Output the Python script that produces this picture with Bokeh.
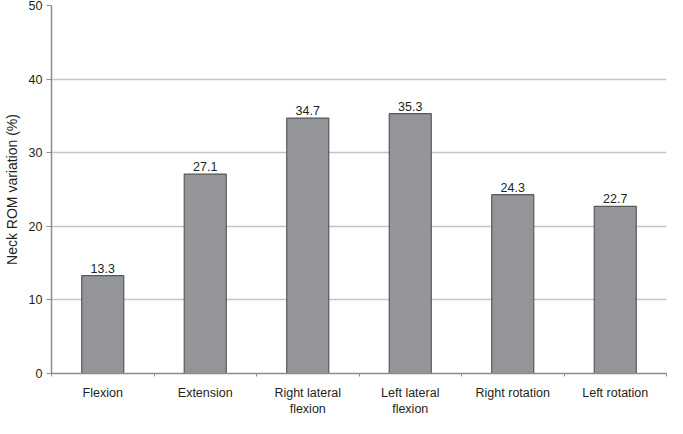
from bokeh.plotting import figure
from bokeh.models import ColumnDataSource, FixedTicker, Range1d
from bokeh.embed import file_html
from bokeh.resources import INLINE

# données
categories = ["Flexion", "Extension", "Right lateral flexion", "Left lateral flexion",
              "Right rotation", "Left rotation"]
tick_labels = ["Flexion", "Extension", "Right lateral\nflexion", "Left lateral\nflexion",
               "Right rotation", "Left rotation"]
values = [13.3, 27.1, 34.7, 35.3, 24.3, 22.7]

pos = [i + 0.5 for i in range(len(categories))]
source = ColumnDataSource(dict(x=pos, top=values, cat=categories,
                               lab=["%.1f" % v for v in values]))

FONT = "Liberation Sans"

p = figure(width=667, height=418, output_backend="svg", toolbar_location=None,
           x_range=Range1d(0, len(categories)), y_range=Range1d(0, 50),
           min_border_left=0, min_border_right=1, min_border_top=5, min_border_bottom=0)
p.outline_line_color = None

p.vbar(x="x", top="top", bottom=0, width=0.41, source=source,
       fill_color="#939598", line_color="#58595b", line_width=1.2)

p.text(x="x", y="top", text="lab", source=source, text_align="center",
       text_baseline="bottom", y_offset=-3, text_font_size="12.5px",
       text_color="#231f20", text_font={"value": FONT})

# axe x : libellés au centre, petites graduations entre catégories
p.xaxis.ticker = FixedTicker(ticks=pos, minor_ticks=list(range(len(categories) + 1)))
p.xaxis.major_label_overrides = {x: l for x, l in zip(pos, tick_labels)}
p.xaxis.major_tick_out = 0
p.xaxis.major_tick_in = 0
p.xaxis.minor_tick_out = 3
p.xaxis.minor_tick_in = 0
p.xaxis.minor_tick_line_color = "#8c8c8c"
p.xaxis.major_label_standoff = 9
p.xaxis.major_label_text_line_height = 1.15
p.xaxis.major_label_text_baseline = "top"

p.yaxis.ticker = FixedTicker(ticks=[0, 10, 20, 30, 40, 50])
p.yaxis.minor_tick_line_color = None
p.yaxis.major_tick_out = 5
p.yaxis.major_tick_in = 0
p.yaxis.major_tick_line_color = "#8c8c8c"
p.yaxis.major_label_standoff = 4
p.yaxis.axis_label = "Neck ROM variation (%)"
p.yaxis.axis_label_standoff = 6
p.yaxis.axis_label_text_font_style = "normal"
p.yaxis.axis_label_text_font_size = "14px"
p.yaxis.axis_label_text_font = FONT
p.yaxis.axis_label_text_color = "#231f20"

for ax in (p.xaxis, p.yaxis):
    ax.axis_line_color = "#8c8c8c"
    ax.axis_line_width = 1.5
    ax.major_label_text_font = FONT
    ax.major_label_text_font_size = "12.5px"
    ax.major_label_text_color = "#231f20"

p.xgrid.grid_line_color = None
p.ygrid.grid_line_color = "#c4c4c4"
p.ygrid.grid_line_width = 1.5

open("out.html", "w").write(file_html(p, INLINE))
